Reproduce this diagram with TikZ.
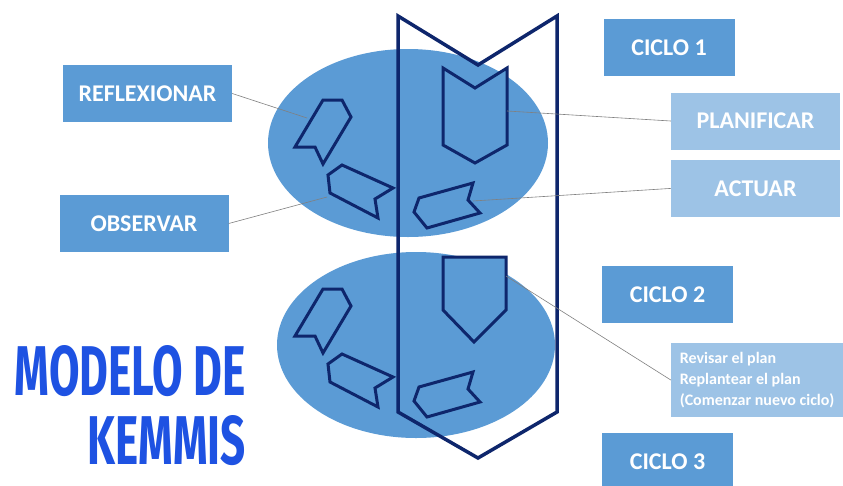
\documentclass[tikz,border=0pt]{standalone}
\usepackage{graphicx}
\usepackage{fontspec}
\setmainfont{Carlito}
\newfontfamily\titlefont{Fira Sans}
\usetikzlibrary{
  positioning
}
\definecolor{boxblue}{RGB}{91,155,213}
\definecolor{lightblue}{RGB}{157,195,230}
\definecolor{navy}{RGB}{14,38,108}
\definecolor{titleblue}{RGB}{30,82,226}
\tikzset{
  x = 1pt, y = -1pt,
  stage/.style = {fill=boxblue, text=white, inner sep=0pt,
    font=\bfseries\fontsize{24}{28}\selectfont, minimum height=57pt},
  cyclebox/.style = {stage, minimum width=131pt},
  darkbox/.style = {stage, minimum width=169pt},
  lightbox/.style = {stage, fill=lightblue, minimum width=169pt},
  piece/.style = {draw=navy, fill=boxblue, line width=3pt},
  link/.style = {draw=gray, line width=0.6pt},
}

\begin{document}
\begin{tikzpicture}
  \clip (0,0) rectangle (843,485);
  \fill[white] (0,0) rectangle (843,485);
  % two cycles
  \fill[boxblue] (408,143) ellipse [x radius=140pt, y radius=94pt];
  \fill[boxblue] (416,345) ellipse [x radius=139pt, y radius=93pt];
  \foreach \dy in {0,189} {
    \draw[piece, shift={(0,\dy)}]
      (323,100) -- (342,100) -- (351,117) -- (323,164) -- (315,147) -- (295,147) -- cycle;
    \draw[piece, shift={(0,\dy)}]
      (328,175) -- (342,165) -- (393,188) -- (375,199) -- (378,218) -- (330,193) -- cycle;
    \draw[piece, shift={(0,\dy)}]
      (414,212) -- (419,198) -- (473,183) -- (468,200) -- (480,213) -- (427,228) -- cycle;
  }
  \draw[piece] (443,68) -- (475,88) -- (507,68) -- (507,145) -- (475,163) -- (443,145) -- cycle;
  \draw[piece] (443,257) -- (506,257) -- (506,310) -- (474,342) -- (443,310) -- cycle;
  \draw[draw=navy, line width=3.5pt]
    (398,16) -- (478,65) -- (557,16) -- (557,412) -- (478,458) -- (398,412) -- cycle;

  % anchors on the pieces
  \coordinate (refl) at (307,118);
  \coordinate (obs) at (327,197);
  \coordinate (plan) at (507,111);
  \coordinate (act) at (473,201);
  \coordinate (rev) at (506,276);

  % labels
  \node[cyclebox] (ciclo1) at (669,47.5) {CICLO 1};
  \node[lightbox] (planificar) at (755.5,121) {PLANIFICAR};
  \node[lightbox, below=10pt of planificar] (actuar) {ACTUAR};
  \node[cyclebox] (ciclo2) at (667.5,294.5) {CICLO 2};
  \node[stage, fill=lightblue, minimum width=172pt, minimum height=74pt, align=left,
    font=\bfseries\fontsize{16}{21}\selectfont] (revisar) at (757,380)
    {Revisar el plan\\Replantear el plan\\(Comenzar nuevo ciclo)};
  \node[cyclebox, below=110pt of ciclo2] (ciclo3) {CICLO 3};
  \node[darkbox] (reflexionar) at (147.5,93.5) {REFLEXIONAR};
  \node[darkbox] (observar) at (144,223.5) {OBSERVAR};

  \draw[link] (reflexionar.east) -- (refl);
  \draw[link] (observar.east) -- (obs);
  \draw[link] (planificar.west) -- (plan);
  \draw[link] (actuar.west) -- (act);
  \draw[link] (revisar.west) -- (rev);

  % title
  \node[anchor=north east, inner sep=0pt, text=titleblue] (title1) at (246,345)
    {\resizebox{231pt}{50pt}{\titlefont\bfseries MODELO DE}};
  \node[anchor=north east, inner sep=0pt, text=titleblue] (title2) at (246,415)
    {\resizebox{158pt}{49pt}{\titlefont\bfseries KEMMIS}};
\end{tikzpicture}
\end{document}
